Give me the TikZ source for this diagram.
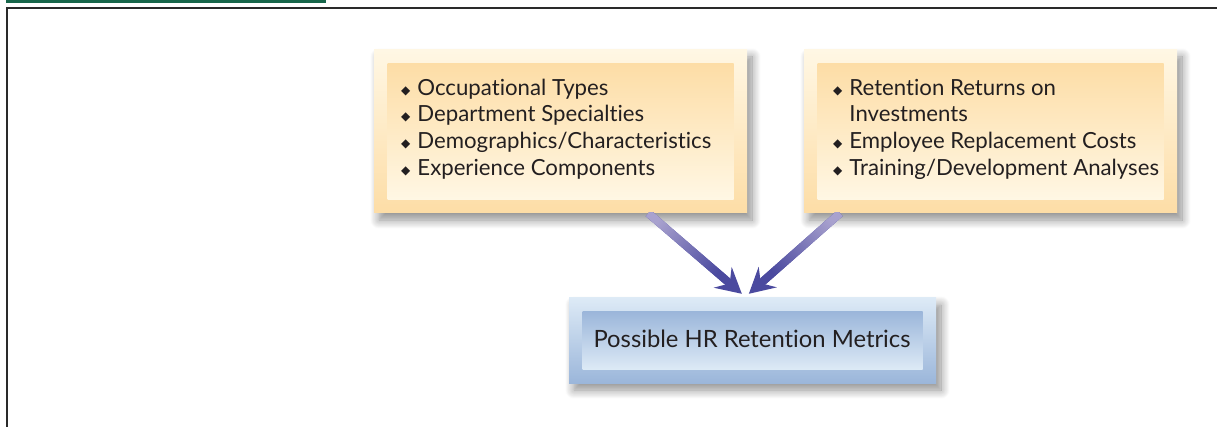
\documentclass[tikz,border=0pt]{standalone}
\usepackage{fontspec}
\setmainfont[Ligatures=NoCommon,Contextuals=NoAlternate]{Lato}
\newfontfamily\symfont{DejaVu Sans}
\usetikzlibrary{arrows.meta,calc,shadows.blur}
\definecolor{barGreen}{HTML}{17664A}
\definecolor{frameCol}{HTML}{2A2A2A}
\definecolor{yTop}{HTML}{FFF7E4}
\definecolor{yBot}{HTML}{FDDDA6}
\definecolor{bTop}{HTML}{DDEAF6}
\definecolor{bBot}{HTML}{9BB6DA}
\definecolor{arrLight}{HTML}{A8A1CE}
\definecolor{arrDark}{HTML}{4B4A9F}
\definecolor{txt}{HTML}{231F20}
\newcommand\bul{{\symfont\fontsize{12}{10}\selectfont\raisebox{1pt}{◆}}}
\begin{document}
\begin{tikzpicture}[x=1pt,y=-1pt,
  ouryshadow/.style={blur shadow={shadow xshift=5pt,shadow yshift=-7pt,shadow blur radius=9pt,shadow blur steps=12,shadow opacity=45}},
  youter/.style={rectangle,inner sep=0pt,top color=yTop,bottom color=yBot,ouryshadow},
  yinner/.style={rectangle,inner sep=0pt,top color=yBot,bottom color=yTop},
  bouter/.style={rectangle,inner sep=0pt,top color=bTop,bottom color=bBot,ouryshadow},
  binner/.style={rectangle,inner sep=0pt,top color=bBot,bottom color=bTop},
  listtext/.style={anchor=north west,inner sep=0pt,text=txt,font=\fontsize{22.2}{26.7}\selectfont},
  conn/.style={draw=arrDark,line width=8pt,-{Stealth[length=25pt,width=27pt,inset=9pt]}},
  frameline/.style={draw=frameCol,line width=1.8pt}
]
\useasboundingbox (0,0) rectangle (1217,427);
\fill[barGreen] (6,0) rectangle (326,3);
\draw[frameline] (7,427) -- (7,8) -- (1217,8);

% boxes
\node[youter,minimum width=373pt,minimum height=163pt] (L) at (560.5,131.5) {};
\node[yinner,minimum width=346pt,minimum height=136pt] (Li) at (L.center) {};
\node[youter,minimum width=373pt,minimum height=163pt] (R) at (990.5,131.5) {};
\node[yinner,minimum width=346pt,minimum height=136pt] (Ri) at (R.center) {};
\node[bouter,minimum width=367pt,minimum height=85pt] (B) at (752.5,340.5) {};
\node[binner,minimum width=340pt,minimum height=58pt] (Bi) at (B.center) {};

% texts
\node[listtext] (Lt) at (401,76.3) {\begin{tabular}{@{}l@{\hspace{7pt}}l@{}}
\bul & Occupational Types\\
\bul & Department Specialties\\
\bul & Demographics/Characteristics\\
\bul & Experience Components
\end{tabular}};
\node[listtext] (Rt) at (833,76.3) {\begin{tabular}{@{}l@{\hspace{7pt}}l@{}}
\bul & Retention Returns on\\
 & Investments\\
\bul & Employee Replacement Costs\\
\bul & Training/Development Analyses
\end{tabular}};
\node[anchor=base,inner sep=0pt,text=txt,font=\fontsize{23.8}{26}\selectfont] (Bt) at (752,347) {Possible HR Retention Metrics};

% connectors
\coordinate (s1) at ($(L.south west)!0.735!(L.south east)$);
\coordinate (t1) at ($(B.north west)!0.471!(B.north east)+(0,-4)$);
\coordinate (s2) at ($(R.south west)!0.097!(R.south east)$);
\coordinate (t2) at ($(B.north west)!0.49!(B.north east)+(0,-4)$);
\coordinate (h1) at ($(t1)!20pt!(s1)$);
\coordinate (h2) at ($(t2)!20pt!(s2)$);
\begin{scope}
\clip (0,213) rectangle (1217,427);
\draw[conn] (s1) -- (t1);
\draw[conn] (s2) -- (t2);
\shade[top color=arrLight,bottom color=arrDark,shading angle=49]
  ($(s1)!4pt!90:(t1)$) -- ($(s1)!4pt!-90:(t1)$) -- ($(h1)!4pt!90:(s1)$) -- ($(h1)!4pt!-90:(s1)$) -- cycle;
\shade[top color=arrLight,bottom color=arrDark,shading angle=-48]
  ($(s2)!4pt!90:(t2)$) -- ($(s2)!4pt!-90:(t2)$) -- ($(h2)!4pt!90:(s2)$) -- ($(h2)!4pt!-90:(s2)$) -- cycle;
\end{scope}
\end{tikzpicture}
\end{document}
